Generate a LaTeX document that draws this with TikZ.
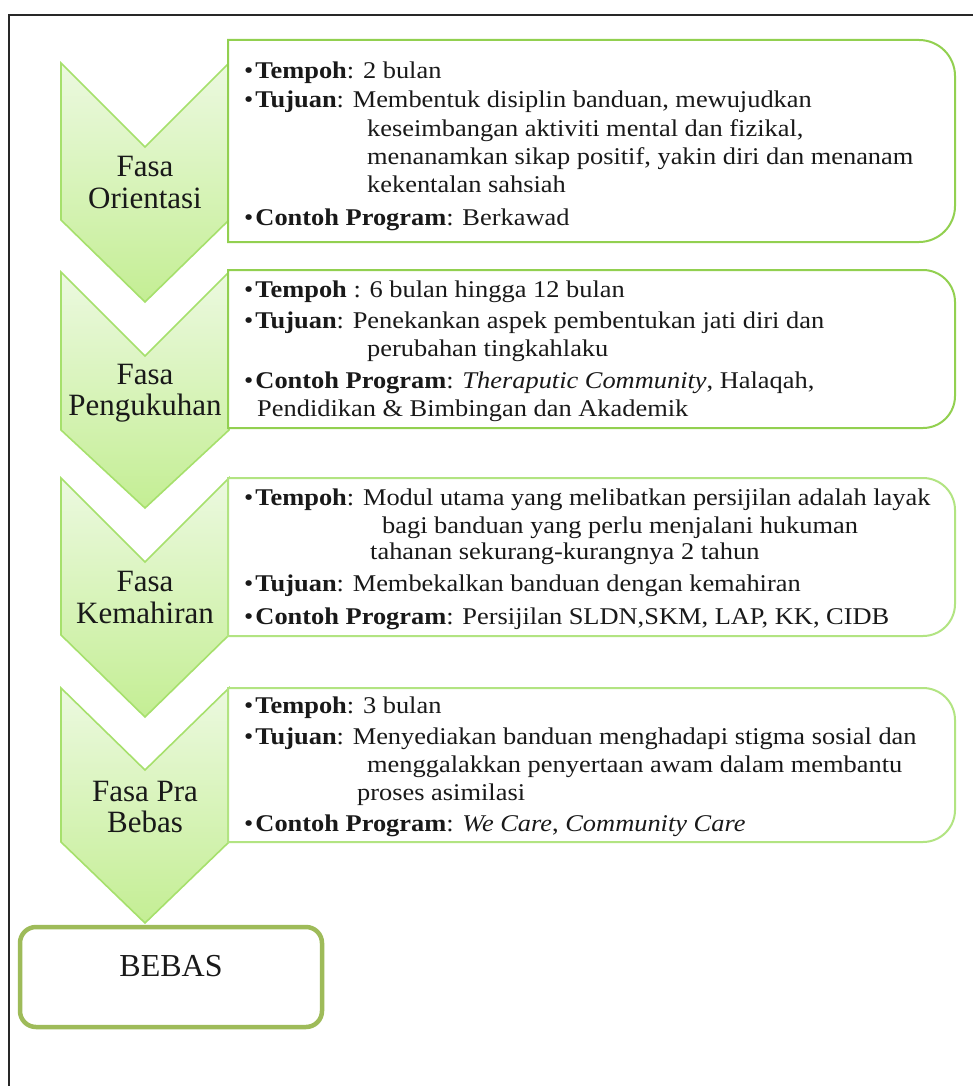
\documentclass[tikz,border=0pt]{standalone}
\usepackage{fontspec}
\setmainfont{Liberation Serif}
\newfontfamily\boxfont{Liberation Serif}[FakeStretch=1.1]
\definecolor{chevtop}{RGB}{236,249,224}
\definecolor{chevbot}{RGB}{196,238,148}
\definecolor{chevline}{RGB}{166,224,108}
\definecolor{boxline}{RGB}{146,208,80}
\definecolor{boxlineB}{RGB}{178,228,130}
\definecolor{bebasline}{RGB}{158,187,89}
\definecolor{framecol}{RGB}{40,40,40}
\definecolor{ink}{RGB}{25,25,25}
\begin{document}
\begin{tikzpicture}[x=1pt,y=-1pt,
  chev/.style={draw=chevline, line width=1.6pt, top color=chevtop, bottom color=chevbot, line join=miter},
  infobox/.style={draw=boxline, line width=2pt, fill=white},
  infoboxB/.style={draw=boxlineB, line width=2pt, fill=white},
  ln/.style={anchor=base west, inner sep=0pt, text=ink, font=\boxfont\fontsize{24}{28}\selectfont},
  chevtext/.style={anchor=base, inner sep=0pt, text=ink, font=\fontsize{31}{33}\selectfont},
  bebasbox/.style={draw=bebasline, line width=4.5pt, rounded corners=16pt, fill=white,
     minimum width=302pt, minimum height=100pt, text height=22pt, text depth=24pt,
     text=ink, font=\fontsize{32}{34}\selectfont}]
\useasboundingbox (0,0) rectangle (973,1086);
\fill[white] (0,0) rectangle (973,1086);
% outer frame
\draw[framecol, line width=2.5pt] (973,15) -- (9,15) -- (9,1086);

% chevrons
\path[chev] (61,63) -- (145,147) -- (229,63) -- (229,220) -- (145,302) -- (61,220) -- cycle;
\path[chev] (61,272) -- (145,356) -- (229,272) -- (229,430) -- (145,508) -- (61,430) -- cycle;
\path[chev] (61,478) -- (145,562) -- (229,478) -- (229,635) -- (145,717) -- (61,635) -- cycle;
\path[chev] (61,688) -- (145,770) -- (229,688) -- (229,842) -- (145,923) -- (61,842) -- cycle;

% boxes (right corners rounded)
\draw[infobox] (228,242) -- (228,40) -- (590,40) [rounded corners=36pt] -- (955,40) -- (955,242) -- (590,242) [sharp corners] -- (228,242) -- cycle;
\draw[infobox] (228,428) -- (228,270) -- (590,270) [rounded corners=32pt] -- (955,270) -- (955,428) -- (590,428) [sharp corners] -- (228,428) -- cycle;
\draw[infoboxB] (228,636) -- (228,478) -- (590,478) [rounded corners=32pt] -- (955,478) -- (955,636) -- (590,636) [sharp corners] -- (228,636) -- cycle;
\draw[infoboxB] (228,842) -- (228,688) -- (590,688) [rounded corners=32pt] -- (955,688) -- (955,842) -- (590,842) [sharp corners] -- (228,842) -- cycle;

% chevron labels
\node[chevtext] (c1a) at (145,177) {Fasa};
\node[chevtext] (c1b) at (145,208) {Orientasi};
\node[chevtext] (c2a) at (145,384) {Fasa};
\node[chevtext] (c2b) at (145,415) {Pengukuhan};
\node[chevtext] (c3a) at (145,591) {Fasa};
\node[chevtext] (c3b) at (145,623) {Kemahiran};
\node[chevtext] (c4a) at (145,801) {Fasa Pra};
\node[chevtext] (c4b) at (145,832) {Bebas};

% box 1 text
\node[ln] (b1a) at (244,79) {•\hspace{2pt}\textbf{Tempoh}: 2 bulan};
\node[ln] (b1b) at (244,108) {•\hspace{2pt}\textbf{Tujuan}: Membentuk disiplin banduan, mewujudkan};
\node[ln] (b1c) at (367,137) {keseimbangan aktiviti mental dan fizikal,};
\node[ln] (b1d) at (367,165) {menanamkan sikap positif, yakin diri dan menanam};
\node[ln] (b1e) at (367,193) {kekentalan sahsiah};
\node[ln] (b1f) at (244,225) {•\hspace{2pt}\textbf{Contoh Program}: Berkawad};

% box 2 text
\node[ln] (b2a) at (244,297) {•\hspace{2pt}\textbf{Tempoh} : 6 bulan hingga 12 bulan};
\node[ln] (b2b) at (244,328) {•\hspace{2pt}\textbf{Tujuan}: Penekankan aspek pembentukan jati diri dan};
\node[ln] (b2c) at (367,356) {perubahan tingkahlaku};
\node[ln] (b2d) at (244,388) {•\hspace{2pt}\textbf{Contoh Program}: \textit{Theraputic Community}, Halaqah,};
\node[ln] (b2e) at (257,416) {Pendidikan \& Bimbingan dan Akademik};

% box 3 text
\node[ln] (b3a) at (244,505) {•\hspace{2pt}\textbf{Tempoh}: Modul utama yang melibatkan persijilan adalah layak};
\node[ln] (b3b) at (382,533) {bagi banduan yang perlu menjalani hukuman};
\node[ln] (b3c) at (370,559) {tahanan sekurang-kurangnya 2 tahun};
\node[ln] (b3d) at (244,591) {•\hspace{2pt}\textbf{Tujuan}: Membekalkan banduan dengan kemahiran};
\node[ln] (b3e) at (244,624) {•\hspace{2pt}\textbf{Contoh Program}: Persijilan SLDN,SKM, LAP, KK, CIDB};

% box 4 text
\node[ln] (b4a) at (244,713) {•\hspace{2pt}\textbf{Tempoh}: 3 bulan};
\node[ln] (b4b) at (244,744) {•\hspace{2pt}\textbf{Tujuan}: Menyediakan banduan menghadapi stigma sosial dan};
\node[ln] (b4c) at (367,772) {menggalakkan penyertaan awam dalam membantu};
\node[ln] (b4d) at (357,800) {proses asimilasi};
\node[ln] (b4e) at (244,831) {•\hspace{2pt}\textbf{Contoh Program}: \textit{We Care}, \textit{Community Care}};

% final box
\node[bebasbox] (bebas) at (171,977) {BEBAS};
\end{tikzpicture}
\end{document}
